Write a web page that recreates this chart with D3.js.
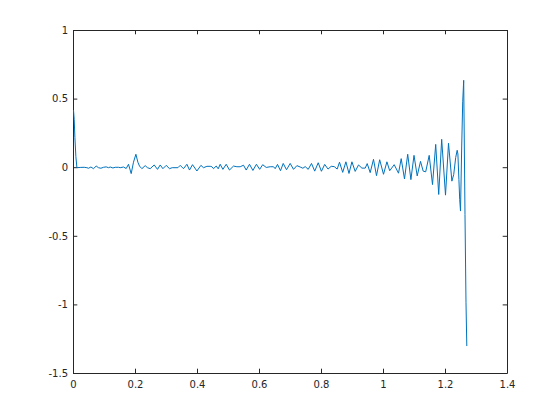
<!DOCTYPE html>
<html><head><meta charset="utf-8">
<script src="https://cdn.jsdelivr.net/npm/d3@7"></script>
<style>body{margin:0;background:#fff} svg{display:block}</style>
</head><body><svg id="c" width="560" height="420"></svg>
<script>
const xValues = [0,0.0023,0.0045,0.0077,0.011,0.0216,0.0345,0.0432,0.0484,0.0561,0.0645,0.0732,0.0806,0.0884,0.0968,0.1055,0.1129,0.1184,0.1271,0.1345,0.1452,0.1506,0.1613,0.17,0.1774,0.1861,0.1935,0.2013,0.2077,0.2129,
0.2206,0.2313,0.2387,0.2474,0.2603,0.271,0.2797,0.2884,0.299,0.3097,0.3184,0.3368,0.3442,0.3548,0.3658,0.3742,0.3839,0.3981,0.411,0.4194,0.4303,0.441,0.4465,0.4516,0.4603,0.4668,0.4732,0.4819,0.4926,0.5032,
0.5161,0.5271,0.5377,0.5484,0.5571,0.5677,0.5787,0.59,0.6006,0.6103,0.6216,0.6345,0.6452,0.6506,0.6581,0.6677,0.6765,0.6871,0.699,0.7097,0.7206,0.7313,0.74,0.7474,0.7571,0.7677,0.7781,0.7894,0.7997,0.8103,
0.821,0.8313,0.841,0.8506,0.8581,0.8684,0.8787,0.8887,0.8981,0.9087,0.9194,0.9303,0.941,0.9474,0.9571,0.9677,0.9774,0.9877,1.0,1.011,1.02,1.0345,1.0484,1.0571,1.0677,1.0781,1.0884,1.0984,1.1087,1.1194,
1.128,1.1361,1.1474,1.1581,1.1684,1.1781,1.1877,1.2,1.2097,1.2206,1.2265,1.2329,1.2377,1.24,1.2432,1.2458,1.2484,1.2523,1.2555,1.2587,1.2629,1.2661,1.2687];
const yValues = [0.42,0.35,0.22,0.08,0.0,0.002,0.003,0,-0.004,0.005,-0.007,0.012,0,-0.004,0.003,0.006,0,0.005,-0.002,0.003,0.003,0,0.005,-0.006,0.025,-0.043,0.04,0.098,0.04,0.012,
-0.007,0.015,0,-0.007,0.02,-0.012,0.02,-0.007,0.017,-0.007,0,0,0.017,-0.007,0.025,-0.017,0.022,-0.024,0.017,0,0.01,0.01,0.007,-0.007,0.012,-0.008,0.025,-0.012,0.025,-0.017,
0.012,0.007,0.007,0.018,-0.017,0.025,-0.02,0.025,-0.012,0.022,0.002,0.007,0.007,-0.007,0.024,-0.022,0.031,-0.015,0.031,-0.012,0.015,0.005,-0.004,0.008,-0.012,0.031,-0.025,0.036,-0.026,0.024,
-0.01,0.01,0.008,-0.01,0.04,-0.034,0.043,-0.042,0.043,-0.027,0.02,-0.003,-0.003,0.03,-0.036,0.061,-0.058,0.058,-0.048,0.043,-0.022,0.022,-0.04,0.066,-0.082,0.098,-0.087,0.09,-0.06,0.046,
-0.025,-0.03,0.09,-0.123,0.17,-0.195,0.207,-0.2,0.178,-0.098,-0.05,0.074,0.127,0.10,-0.085,-0.23,-0.316,0.158,0.48,0.637,-0.34,-0.98,-1.30];
const xTicks = [0,0.2,0.4,0.6,0.8,1,1.2,1.4];
const xTickLabels = ["0","0.2","0.4","0.6","0.8","1","1.2","1.4"];
const yTicks = [-1.5,-1,-0.5,0,0.5,1];
const yTickLabels = ["-1.5","-1","-0.5","0","0.5","1"];

const W = 560, H = 420;
const L = 73, R = 507, T = 30, B = 373;
const svg = d3.select("#c");
svg.append("rect").attr("width", W).attr("height", H).attr("fill", "#fff");
const x = d3.scaleLinear().domain([0, 1.4]).range([L, R]);
const y = d3.scaleLinear().domain([-1.5, 1]).range([B, T]);
const tl = 4.3, axisColor = "#262626";

function style(g) {
  g.attr("font-family", "'DejaVu Sans', sans-serif").attr("font-size", 10);
  g.selectAll("path, line").attr("stroke", axisColor);
  g.selectAll("text").attr("fill", axisColor);
}
svg.append("g").attr("transform", `translate(0,${B})`)
  .call(d3.axisBottom(x).tickValues(xTicks).tickFormat((d, i) => xTickLabels[i]).tickSizeInner(-tl).tickSizeOuter(0).tickPadding(8))
  .call(style);
svg.append("g").attr("transform", `translate(0,${T})`)
  .call(d3.axisTop(x).tickValues(xTicks).tickFormat(() => "").tickSizeInner(-tl).tickSizeOuter(0))
  .call(style);
svg.append("g").attr("transform", `translate(${L},0)`)
  .call(d3.axisLeft(y).tickValues(yTicks).tickFormat((d, i) => yTickLabels[i]).tickSizeInner(-tl).tickSizeOuter(0).tickPadding(5))
  .call(style);
svg.append("g").attr("transform", `translate(${R},0)`)
  .call(d3.axisRight(y).tickValues(yTicks).tickFormat(() => "").tickSizeInner(-tl).tickSizeOuter(0))
  .call(style);

const line = d3.line().x((d, i) => x(xValues[i]) + 0.5).y(d => y(d) + 0.5);
svg.append("path").datum(yValues).attr("d", line)
  .attr("fill", "none").attr("stroke", "#0072BD").attr("stroke-width", 1)
  .attr("stroke-linejoin", "miter");
</script></body></html>
